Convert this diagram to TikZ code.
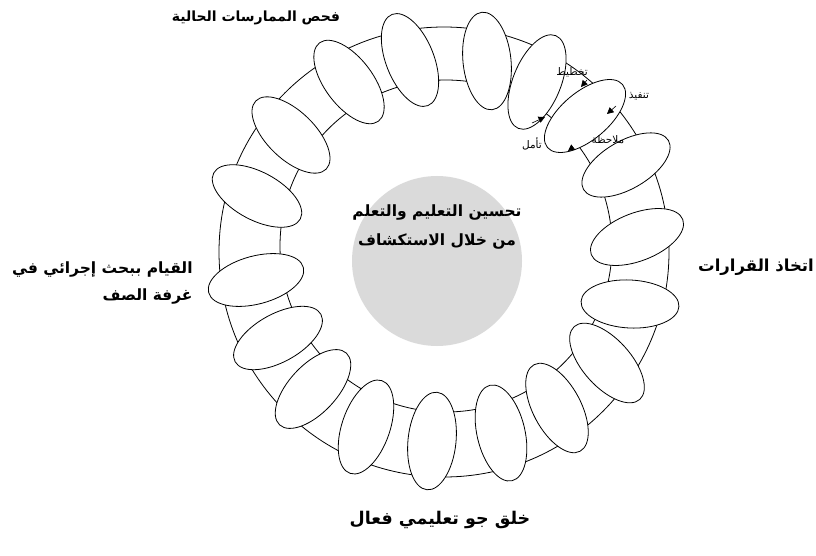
\documentclass[tikz,border=0pt]{standalone}
\usepackage{fontspec}
\usetikzlibrary{shapes.geometric,arrows.meta}
\TeXXeTstate=1
\newfontfamily\arabicfont[Script=Arabic]{DejaVu Sans}
\definecolor{hubgray}{RGB}{218,218,218}
\tikzset{
  petal/.style={ellipse, draw, fill=white, line width=0.8pt, inner sep=0pt,
    minimum width=98pt, minimum height=48pt},
  biglabel/.style={font=\arabicfont\bfseries\fontsize{#1}{27}\selectfont, inner sep=0pt},
  biglabel/.default=15,
  smalllabel/.style={font=\arabicfont\fontsize{10.5}{12}\selectfont, inner sep=0pt},
  cyclearrow/.style={-{Triangle[length=6.5pt,width=6.5pt]}, line width=0.6pt},
}
\begin{document}
\begin{tikzpicture}[x=1pt,y=-1pt,line width=0.8pt]
\useasboundingbox (0,0) rectangle (816,556);
% ring
\draw (444,252) circle[radius=225];
\draw (446,246) circle[radius=166];
% hub
\node[circle, fill=hubgray, minimum size=170pt, inner sep=0pt] (hub) at (437,261) {};
\node[biglabel=15.5, align=center] (hubtxt) at (437,227)
  {\beginR تحسين التعليم والتعلم\endR\\[2pt]\beginR من خلال الاستكشاف\endR};
% petals
\node[petal, rotate=111.5] (e1) at (410,60) {};
\node[petal, rotate=96] (e2) at (487,61) {};
\node[petal, rotate=68, minimum width=100pt] (e3) at (537,82) {};
\node[petal, rotate=40] (e4) at (585,116) {};
\node[petal, rotate=30] (e5) at (626,165) {};
\node[petal, rotate=21] (e6) at (637,237) {};
\node[petal, rotate=-3] (e7) at (630,304) {};
\node[petal, rotate=-48] (e8) at (607,363) {};
\node[petal, rotate=-62] (e9) at (557,408) {};
\node[petal, rotate=-77] (e10) at (501,433) {};
\node[petal, rotate=-96] (e11) at (432,441) {};
\node[petal, rotate=-109] (e12) at (366,427) {};
\node[petal, rotate=-133] (e13) at (313,389) {};
\node[petal, rotate=29] (e14) at (278,338) {};
\node[petal, rotate=15] (e15) at (256,280) {};
\node[petal, rotate=-28] (e16) at (257,196) {};
\node[petal, rotate=-44] (e17) at (291,135) {};
\node[petal, rotate=-53] (e18) at (349,82) {};
% cycle inside e4
\coordinate (a1s) at (587,80);
\coordinate (a1e) at (581,87);
\coordinate (a2s) at (616,106);
\coordinate (a2e) at (607,114);
\coordinate (a3s) at (572,148);
\coordinate (a3e) at (568,151);
\coordinate (a4s) at (532,123);
\coordinate (a4e) at (545,117);
\draw[cyclearrow] (a1s) -- (a1e);
\draw[cyclearrow] (a2s) -- (a2e);
\draw[cyclearrow] (a3s) -- (a3e);
\draw[cyclearrow] (a4s) -- (a4e);
\node[smalllabel] (plan) at (572,72) {\beginR تخطيط\endR};
\node[smalllabel] (impl) at (639,96) {\beginR تنفيذ\endR};
\node[smalllabel] (obs) at (608,140) {\beginR ملاحظة\endR};
\node[smalllabel] (refl) at (532,144) {\beginR تأمل\endR};
% outer labels
\node[biglabel=14] (top) at (256,18) {\beginR فحص الممارسات الحالية\endR};
\node[biglabel=15.5, align=right, anchor=east] (left) at (193,283)
  {\beginR القيام ببحث إجرائي في\endR\\\beginR غرفة الصف\endR};
\node[biglabel=16.5] (right) at (756,267) {\beginR اتخاذ القرارات\endR};
\node[biglabel=17.5] (bottom) at (440,520) {\beginR خلق جو تعليمي فعال\endR};
\end{tikzpicture}
\end{document}
